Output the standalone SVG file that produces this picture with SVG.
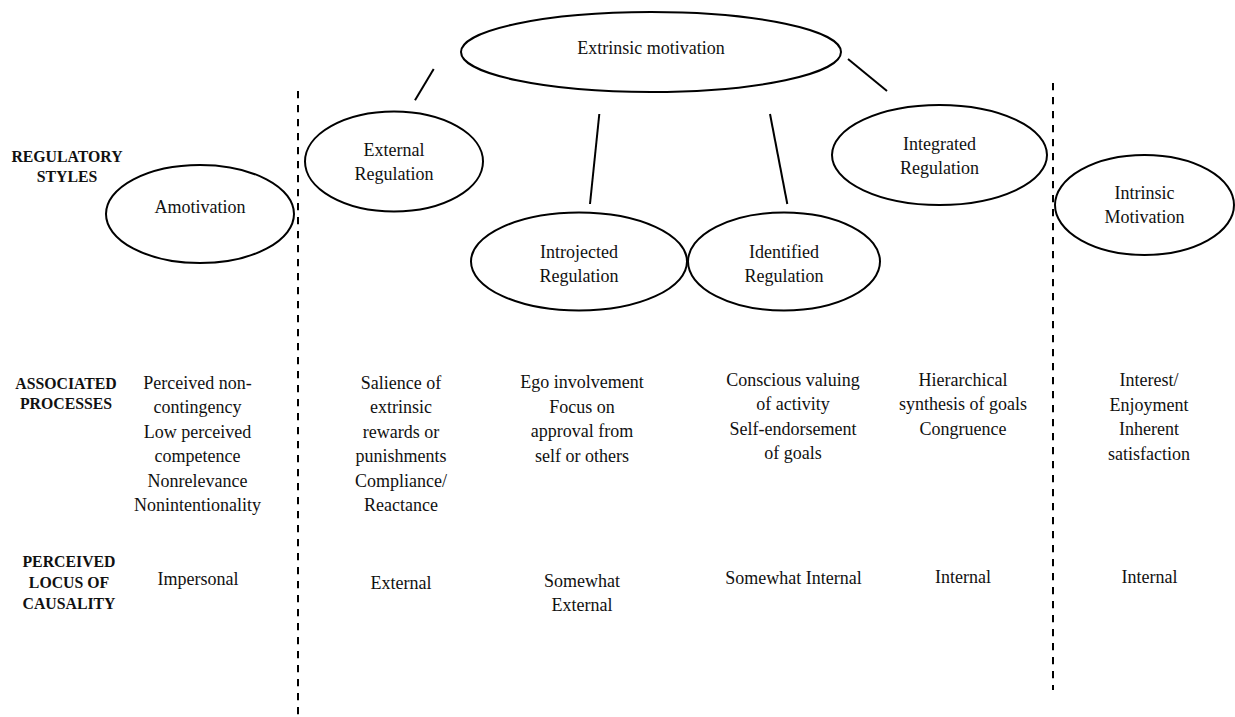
<svg xmlns="http://www.w3.org/2000/svg" width="1235" height="717" viewBox="0 0 1235 717">
  <style>
    .node ellipse { fill: none; stroke: #000; stroke-width: 2; }
    .label { font-family: "Liberation Serif", "Times New Roman", serif; font-size: 18px; fill: #111; text-anchor: middle; }
    .row { font-family: "Liberation Serif", "Times New Roman", serif; font-size: 15.8px; font-weight: bold; fill: #111; text-anchor: middle; }
    .conn line { stroke: #000; stroke-width: 2; }
    .divider { stroke: #000; stroke-width: 2; stroke-dasharray: 7.3 6.7; }
  </style>
  <rect width="1235" height="717" fill="#fff"/>

  <!-- column dividers -->
  <line class="divider" x1="298" y1="91" x2="298" y2="717"/>
  <line class="divider" x1="1053" y1="83" x2="1053" y2="690"/>

  <!-- row headings -->
  <g id="row-headings">
    <text class="row" x="67" y="161.5">REGULATORY</text>
    <text class="row" x="67" y="181.5">STYLES</text>
    <text class="row" x="66" y="389">ASSOCIATED</text>
    <text class="row" x="66" y="409">PROCESSES</text>
    <text class="row" x="69" y="567">PERCEIVED</text>
    <text class="row" x="69" y="588">LOCUS OF</text>
    <text class="row" x="69" y="609">CAUSALITY</text>
  </g>

  <!-- links from extrinsic motivation to its regulation styles -->
  <g id="connectors" class="conn">
    <line x1="433.7" y1="69" x2="415" y2="100.3"/>
    <line x1="599.3" y1="114" x2="590" y2="204"/>
    <line x1="770" y1="114" x2="787.3" y2="204"/>
    <line x1="848" y1="59" x2="887" y2="91"/>
  </g>

  <g id="extrinsic-motivation" class="node">
    <ellipse cx="651" cy="52" rx="190" ry="40"/>
    <text class="label" x="651" y="54">Extrinsic motivation</text>
  </g>

  <g id="amotivation" class="node">
    <ellipse cx="200" cy="214" rx="94" ry="49"/>
    <text class="label" x="200" y="213">Amotivation</text>
  </g>

  <g id="external-regulation" class="node">
    <ellipse cx="394" cy="161.5" rx="89" ry="50"/>
    <text class="label" x="394" y="156">External</text>
    <text class="label" x="394" y="180">Regulation</text>
  </g>

  <g id="introjected-regulation" class="node">
    <ellipse cx="579" cy="261.5" rx="108" ry="49"/>
    <text class="label" x="579" y="257.5">Introjected</text>
    <text class="label" x="579" y="281.5">Regulation</text>
  </g>

  <g id="identified-regulation" class="node">
    <ellipse cx="784" cy="261.5" rx="96" ry="49"/>
    <text class="label" x="784" y="257.5">Identified</text>
    <text class="label" x="784" y="281.5">Regulation</text>
  </g>

  <g id="integrated-regulation" class="node">
    <ellipse cx="939.5" cy="155" rx="107.5" ry="50"/>
    <text class="label" x="939.5" y="150">Integrated</text>
    <text class="label" x="939.5" y="173.5">Regulation</text>
  </g>

  <g id="intrinsic-motivation" class="node">
    <ellipse cx="1144.5" cy="205" rx="89.5" ry="50"/>
    <text class="label" x="1144.5" y="198.5">Intrinsic</text>
    <text class="label" x="1144.5" y="222.5">Motivation</text>
  </g>

  <!-- associated processes -->
  <g id="processes">
    <text class="label" x="197.5" y="388.5">Perceived non-</text>
    <text class="label" x="197.5" y="413">contingency</text>
    <text class="label" x="197.5" y="437.5">Low perceived</text>
    <text class="label" x="197.5" y="462">competence</text>
    <text class="label" x="197.5" y="486.5">Nonrelevance</text>
    <text class="label" x="197.5" y="511">Nonintentionality</text>

    <text class="label" x="401" y="388.5">Salience of</text>
    <text class="label" x="401" y="413">extrinsic</text>
    <text class="label" x="401" y="437.5">rewards or</text>
    <text class="label" x="401" y="462">punishments</text>
    <text class="label" x="401" y="486.5">Compliance/</text>
    <text class="label" x="401" y="511">Reactance</text>

    <text class="label" x="582" y="388">Ego involvement</text>
    <text class="label" x="582" y="412.5">Focus on</text>
    <text class="label" x="582" y="437">approval from</text>
    <text class="label" x="582" y="461.5">self or others</text>

    <text class="label" x="793" y="385.5">Conscious valuing</text>
    <text class="label" x="793" y="410">of activity</text>
    <text class="label" x="793" y="434.5">Self-endorsement</text>
    <text class="label" x="793" y="459">of goals</text>

    <text class="label" x="963" y="385.5">Hierarchical</text>
    <text class="label" x="963" y="410">synthesis of goals</text>
    <text class="label" x="963" y="434.5">Congruence</text>

    <text class="label" x="1149" y="386">Interest/</text>
    <text class="label" x="1149" y="410.5">Enjoyment</text>
    <text class="label" x="1149" y="435">Inherent</text>
    <text class="label" x="1149" y="459.5">satisfaction</text>
  </g>

  <!-- perceived locus of causality -->
  <g id="locus">
    <text class="label" x="198" y="585">Impersonal</text>
    <text class="label" x="401" y="589">External</text>
    <text class="label" x="582" y="586.5">Somewhat</text>
    <text class="label" x="582" y="610.5">External</text>
    <text class="label" x="793.5" y="584">Somewhat Internal</text>
    <text class="label" x="963" y="583">Internal</text>
    <text class="label" x="1149.5" y="583">Internal</text>
  </g>
</svg>
